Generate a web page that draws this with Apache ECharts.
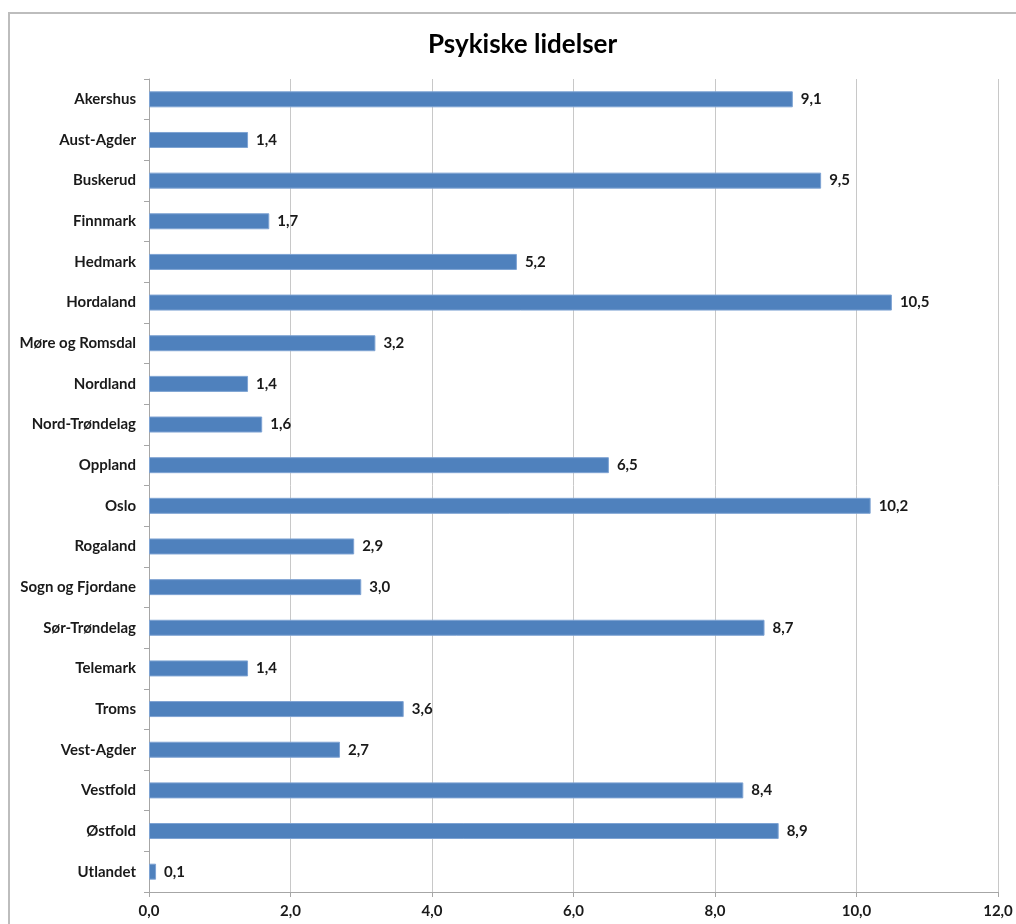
<!DOCTYPE html>
<html><head><meta charset="utf-8">
<script src="https://cdn.jsdelivr.net/npm/echarts@6/dist/echarts.min.js"></script>
<style>html,body{margin:0;padding:0;background:#fff}#c{width:1016px;height:924px}</style>
</head><body><div id="c"></div>
<script>
const categories = ["Akershus","Aust-Agder","Buskerud","Finnmark","Hedmark","Hordaland","Møre og Romsdal","Nordland","Nord-Trøndelag","Oppland","Oslo","Rogaland","Sogn og Fjordane","Sør-Trøndelag","Telemark","Troms","Vest-Agder","Vestfold","Østfold","Utlandet"];
const values = [9.1,1.4,9.5,1.7,5.2,10.5,3.2,1.4,1.6,6.5,10.2,2.9,3.0,8.7,1.4,3.6,2.7,8.4,8.9,0.1];
const titleText = "Psykiske lidelser";
const fmt = v => v.toFixed(1).replace('.', ',');
const chart = echarts.init(document.getElementById('c'), null, {renderer:'canvas'});
const font = 'Lato, "Open Sans", sans-serif';
chart.setOption({
  animation:false,
  backgroundColor:'#fff',
  graphic:[{type:'rect',shape:{x:9,y:13,width:1100,height:1000},style:{fill:'none',stroke:'#bdbdbd',lineWidth:2},silent:true}],
  title:{text:titleText,left:423,top:27,textStyle:{fontFamily:font,fontWeight:'bold',fontSize:26,color:'#000'}},
  grid:{left:149,right:18,top:79,bottom:32,containLabel:false},
  xAxis:{type:'value',min:0,max:12,interval:2,
    axisLine:{show:true,lineStyle:{color:'#a6a6a6'}},
    axisTick:{show:true,length:5,lineStyle:{color:'#a6a6a6'}},
    splitLine:{show:true,lineStyle:{color:'#c8c8c8'}},
    axisLabel:{formatter:v=>fmt(v),fontFamily:font,fontWeight:'bold',fontSize:15,color:'#1a1a1a',margin:12}},
  yAxis:{type:'category',data:categories,inverse:true,
    axisLine:{show:true,lineStyle:{color:'#a6a6a6'}},
    axisTick:{show:true,length:5,lineStyle:{color:'#a6a6a6'}},
    axisLabel:{fontFamily:font,fontWeight:'bold',fontSize:15,color:'#1a1a1a',margin:13}},
  series:[{type:'bar',data:values,barWidth:16,
    itemStyle:{color:'#4f81bd',borderColor:'#7ea3d3',borderWidth:1},
    label:{show:true,position:'right',distance:8,formatter:p=>fmt(p.value),fontFamily:font,fontWeight:'bold',fontSize:15,color:'#1a1a1a'}}]
});
</script></body></html>
